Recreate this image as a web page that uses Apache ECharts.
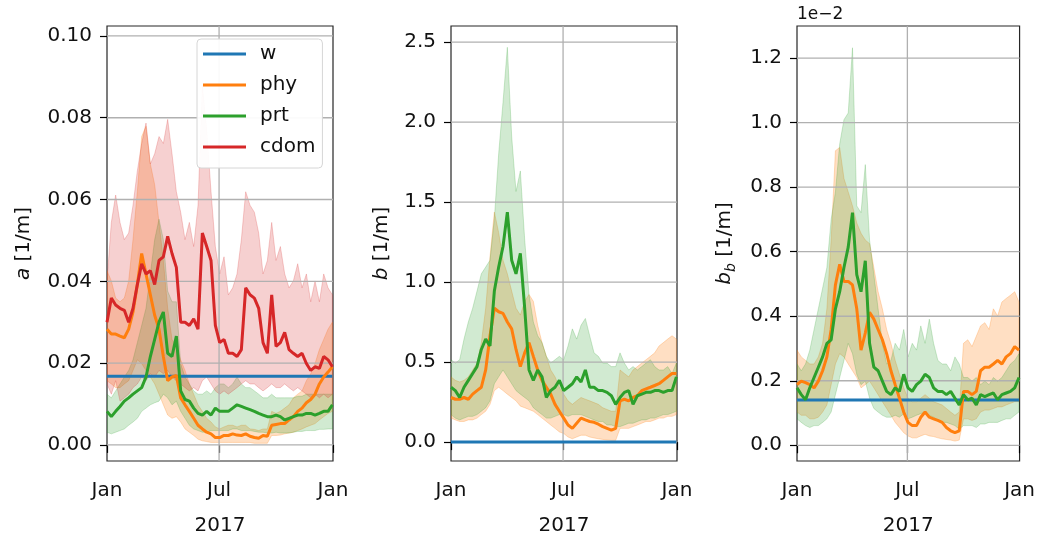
<!DOCTYPE html>
<html><head><meta charset="utf-8">
<script src="https://cdn.jsdelivr.net/npm/echarts@6/dist/echarts.min.js"></script>
<style>html,body{margin:0;padding:0;background:#fff}#c{width:1038px;height:541px}</style>
</head><body><div id="c"></div>
<script>
// ---- dates (weekly samples) ----
const dates = ['2017-01-01','2017-01-08','2017-01-15','2017-01-22','2017-01-29','2017-02-05','2017-02-12','2017-02-19','2017-02-26','2017-03-05','2017-03-12','2017-03-19','2017-03-26','2017-04-02','2017-04-09','2017-04-16','2017-04-23','2017-04-30','2017-05-07','2017-05-14','2017-05-21','2017-05-28','2017-06-04','2017-06-11','2017-06-18','2017-06-25','2017-07-02','2017-07-09','2017-07-16','2017-07-23','2017-07-30','2017-08-06','2017-08-13','2017-08-20','2017-08-27','2017-09-03','2017-09-10','2017-09-17','2017-09-24','2017-10-01','2017-10-08','2017-10-15','2017-10-22','2017-10-29','2017-11-05','2017-11-12','2017-11-19','2017-11-26','2017-12-03','2017-12-10','2017-12-17','2017-12-24','2017-12-31'];
const xTicks = ['2017-01-01','2017-07-01','2018-01-01'];
const xTickLabels = ['Jan','Jul','Jan'];
const aTicks = [0,0.02,0.04,0.06,0.08,0.10];
const bTicks = [0,0.5,1.0,1.5,2.0,2.5];
const bbTicks = [0,0.2,0.4,0.6,0.8,1.0,1.2];
const legendNames = ['w','phy','prt','cdom'];

// ---- panel a [1/m] ----
const aW = 0.0168;
const aCdom = [0.0300,0.0359,0.0342,0.0334,0.0329,0.0300,0.0334,0.0392,0.0443,0.0418,0.0426,0.0392,0.0451,0.0460,0.0510,0.0468,0.0434,0.0300,0.0300,0.0292,0.0308,0.0283,0.0518,0.0485,0.0451,0.0292,0.0250,0.0258,0.0224,0.0224,0.0216,0.0233,0.0384,0.0367,0.0359,0.0334,0.0250,0.0224,0.0367,0.0241,0.0250,0.0275,0.0233,0.0224,0.0216,0.0224,0.0199,0.0182,0.0191,0.0187,0.0216,0.0208,0.0191];
const aCdomHi = [0.0401,0.0544,0.0611,0.0544,0.0502,0.0518,0.0586,0.0670,0.0737,0.0787,0.0687,0.0712,0.0754,0.0737,0.0796,0.0712,0.0619,0.0569,0.0502,0.0544,0.0485,0.0586,0.0880,0.0771,0.0619,0.0485,0.0418,0.0460,0.0367,0.0384,0.0418,0.0502,0.0619,0.0586,0.0569,0.0518,0.0418,0.0451,0.0544,0.0451,0.0485,0.0418,0.0384,0.0401,0.0443,0.0384,0.0418,0.0350,0.0401,0.0350,0.0418,0.0384,0.0367];
const aCdomLo = [0.0149,0.0124,0.0157,0.0107,0.0115,0.0124,0.0140,0.0149,0.0166,0.0157,0.0174,0.0166,0.0182,0.0174,0.0182,0.0166,0.0157,0.0149,0.0140,0.0132,0.0140,0.0132,0.0157,0.0166,0.0149,0.0132,0.0124,0.0132,0.0124,0.0132,0.0140,0.0149,0.0157,0.0149,0.0149,0.0140,0.0132,0.0140,0.0149,0.0140,0.0140,0.0149,0.0140,0.0132,0.0140,0.0132,0.0124,0.0115,0.0124,0.0115,0.0124,0.0115,0.0124];
const aPhy = [0.0283,0.0271,0.0271,0.0266,0.0262,0.0283,0.0325,0.0392,0.0468,0.0418,0.0367,0.0317,0.0283,0.0216,0.0157,0.0166,0.0170,0.0115,0.0098,0.0082,0.0065,0.0048,0.0039,0.0031,0.0027,0.0018,0.0018,0.0023,0.0023,0.0027,0.0024,0.0023,0.0027,0.0021,0.0018,0.0016,0.0023,0.0021,0.0048,0.0050,0.0052,0.0052,0.0061,0.0069,0.0082,0.0090,0.0103,0.0111,0.0124,0.0149,0.0166,0.0178,0.0191];
const aPhyHi = [0.0426,0.0401,0.0359,0.0350,0.0359,0.0401,0.0502,0.0619,0.0754,0.0779,0.0687,0.0636,0.0544,0.0451,0.0334,0.0258,0.0241,0.0208,0.0182,0.0149,0.0124,0.0098,0.0082,0.0065,0.0056,0.0044,0.0039,0.0044,0.0048,0.0048,0.0044,0.0048,0.0048,0.0039,0.0038,0.0035,0.0039,0.0039,0.0082,0.0077,0.0082,0.0090,0.0098,0.0115,0.0124,0.0132,0.0157,0.0174,0.0199,0.0233,0.0258,0.0283,0.0300];
const aPhyLo = [0.0157,0.0149,0.0140,0.0140,0.0149,0.0157,0.0182,0.0208,0.0199,0.0182,0.0166,0.0149,0.0124,0.0098,0.0073,0.0065,0.0069,0.0056,0.0039,0.0031,0.0023,0.0014,0.0010,0.0008,0.0006,0.0006,0.0006,0.0006,0.0006,0.0006,0.0006,0.0006,0.0006,0.0006,0.0004,0.0004,0.0004,0.0004,0.0023,0.0023,0.0024,0.0027,0.0029,0.0031,0.0035,0.0039,0.0044,0.0048,0.0052,0.0061,0.0069,0.0077,0.0082];
const aPrt = [0.0082,0.0069,0.0082,0.0094,0.0107,0.0115,0.0124,0.0132,0.0140,0.0166,0.0216,0.0258,0.0300,0.0325,0.0224,0.0216,0.0266,0.0132,0.0111,0.0107,0.0090,0.0077,0.0073,0.0082,0.0073,0.0090,0.0082,0.0082,0.0082,0.0090,0.0098,0.0094,0.0090,0.0086,0.0082,0.0077,0.0073,0.0069,0.0069,0.0073,0.0069,0.0061,0.0065,0.0069,0.0073,0.0073,0.0077,0.0077,0.0073,0.0077,0.0082,0.0082,0.0098];
const aPrtHi = [0.0124,0.0115,0.0132,0.0149,0.0166,0.0182,0.0208,0.0250,0.0292,0.0334,0.0418,0.0502,0.0552,0.0502,0.0376,0.0350,0.0350,0.0199,0.0166,0.0149,0.0132,0.0124,0.0124,0.0132,0.0124,0.0140,0.0149,0.0149,0.0140,0.0149,0.0166,0.0149,0.0140,0.0140,0.0132,0.0124,0.0115,0.0115,0.0124,0.0115,0.0115,0.0115,0.0115,0.0115,0.0119,0.0119,0.0124,0.0124,0.0124,0.0124,0.0124,0.0124,0.0124];
const aPrtLo = [0.0031,0.0027,0.0031,0.0035,0.0039,0.0048,0.0056,0.0065,0.0082,0.0090,0.0098,0.0103,0.0107,0.0124,0.0115,0.0098,0.0107,0.0082,0.0065,0.0048,0.0039,0.0035,0.0031,0.0031,0.0035,0.0035,0.0035,0.0035,0.0035,0.0039,0.0039,0.0035,0.0035,0.0035,0.0033,0.0031,0.0031,0.0029,0.0029,0.0031,0.0029,0.0029,0.0029,0.0031,0.0033,0.0033,0.0035,0.0035,0.0035,0.0038,0.0038,0.0039,0.0039];

// ---- panel b [1/m] ----
const bW = 0;
const bPhy = [0.279,0.268,0.268,0.279,0.268,0.300,0.322,0.343,0.451,0.665,0.837,0.815,0.805,0.751,0.708,0.579,0.472,0.558,0.622,0.536,0.451,0.386,0.343,0.300,0.236,0.193,0.150,0.107,0.086,0.118,0.150,0.139,0.129,0.124,0.112,0.097,0.086,0.075,0.086,0.258,0.268,0.258,0.279,0.290,0.322,0.333,0.343,0.354,0.365,0.386,0.408,0.429,0.429];
const bPhyHi = [0.408,0.386,0.376,0.386,0.408,0.451,0.494,0.622,0.837,1.159,1.438,1.309,1.137,1.052,0.944,0.837,0.794,0.880,0.923,0.880,0.730,0.622,0.536,0.451,0.408,0.343,0.300,0.258,0.236,0.258,0.279,0.268,0.258,0.247,0.236,0.215,0.204,0.193,0.193,0.451,0.429,0.408,0.451,0.472,0.494,0.515,0.536,0.558,0.601,0.622,0.644,0.665,0.644];
const bPhyLo = [0.150,0.139,0.129,0.129,0.139,0.139,0.150,0.172,0.193,0.236,0.322,0.343,0.322,0.300,0.279,0.258,0.225,0.215,0.204,0.193,0.172,0.150,0.129,0.107,0.086,0.064,0.054,0.032,0.021,0.032,0.043,0.043,0.032,0.026,0.021,0.017,0.013,0.011,0.011,0.086,0.086,0.086,0.097,0.107,0.118,0.129,0.129,0.139,0.150,0.150,0.161,0.161,0.172];
const bPrt = [0.343,0.322,0.279,0.343,0.386,0.429,0.472,0.579,0.644,0.601,0.944,1.094,1.223,1.438,1.137,1.052,1.180,0.837,0.451,0.386,0.451,0.408,0.279,0.322,0.343,0.386,0.322,0.343,0.365,0.408,0.376,0.451,0.343,0.343,0.322,0.322,0.311,0.290,0.236,0.279,0.311,0.322,0.236,0.290,0.300,0.311,0.311,0.322,0.322,0.311,0.322,0.322,0.408];
const bPrtHi = [0.515,0.494,0.515,0.644,0.751,0.837,0.944,1.052,1.094,1.137,1.395,1.803,2.124,2.468,1.910,1.567,1.695,1.266,0.923,0.751,0.665,0.622,0.536,0.494,0.515,0.536,0.515,0.601,0.708,0.644,0.730,0.773,0.665,0.558,0.536,0.494,0.494,0.472,0.472,0.558,0.494,0.451,0.472,0.451,0.472,0.494,0.515,0.472,0.451,0.451,0.472,0.429,0.494];
const bPrtLo = [0.172,0.150,0.139,0.150,0.161,0.161,0.172,0.193,0.215,0.258,0.365,0.408,0.451,0.408,0.365,0.322,0.300,0.279,0.258,0.215,0.193,0.172,0.150,0.150,0.161,0.172,0.172,0.161,0.172,0.172,0.172,0.161,0.150,0.139,0.129,0.129,0.107,0.107,0.097,0.097,0.107,0.118,0.118,0.129,0.139,0.139,0.150,0.150,0.161,0.172,0.172,0.182,0.193];

// ---- panel b_b [1/m], in units of 1e-2 ----
const bbW = 0.14;
const bbPhy = [0.188,0.199,0.194,0.188,0.178,0.199,0.231,0.274,0.359,0.497,0.561,0.508,0.508,0.497,0.423,0.295,0.348,0.412,0.391,0.359,0.327,0.284,0.231,0.188,0.146,0.103,0.071,0.061,0.061,0.087,0.103,0.087,0.082,0.077,0.071,0.055,0.045,0.039,0.045,0.167,0.167,0.157,0.167,0.231,0.242,0.242,0.252,0.263,0.252,0.274,0.284,0.306,0.295];
const bbPhyHi = [0.295,0.274,0.263,0.252,0.252,0.274,0.316,0.423,0.636,0.913,0.923,0.827,0.785,0.742,0.689,0.657,0.636,0.625,0.551,0.476,0.423,0.359,0.316,0.263,0.220,0.178,0.146,0.135,0.135,0.146,0.157,0.146,0.135,0.130,0.125,0.114,0.103,0.093,0.103,0.316,0.327,0.306,0.338,0.370,0.380,0.359,0.423,0.401,0.444,0.455,0.465,0.476,0.444];
const bbPhyLo = [0.103,0.093,0.093,0.082,0.082,0.087,0.103,0.125,0.188,0.252,0.284,0.274,0.252,0.231,0.210,0.178,0.188,0.199,0.178,0.157,0.135,0.114,0.093,0.071,0.055,0.039,0.029,0.023,0.023,0.029,0.034,0.029,0.027,0.023,0.020,0.018,0.016,0.013,0.016,0.082,0.082,0.077,0.082,0.103,0.109,0.109,0.114,0.119,0.119,0.125,0.130,0.135,0.135];
const bbPrt = [0.178,0.157,0.141,0.178,0.210,0.242,0.274,0.316,0.327,0.423,0.476,0.551,0.614,0.721,0.529,0.476,0.572,0.316,0.242,0.231,0.199,0.167,0.157,0.178,0.167,0.220,0.178,0.167,0.188,0.199,0.220,0.210,0.178,0.167,0.167,0.157,0.167,0.146,0.125,0.157,0.141,0.146,0.125,0.157,0.151,0.157,0.162,0.141,0.157,0.162,0.167,0.178,0.210];
const bbPrtHi = [0.252,0.231,0.252,0.295,0.359,0.423,0.487,0.551,0.700,0.785,0.934,1.009,1.030,1.232,0.742,0.721,0.870,0.636,0.529,0.423,0.316,0.252,0.263,0.316,0.295,0.359,0.274,0.316,0.295,0.370,0.316,0.391,0.316,0.263,0.252,0.252,0.231,0.274,0.252,0.210,0.210,0.199,0.210,0.188,0.199,0.188,0.210,0.199,0.210,0.231,0.252,0.263,0.284];
const bbPrtLo = [0.082,0.071,0.061,0.055,0.061,0.061,0.071,0.082,0.103,0.157,0.210,0.263,0.316,0.284,0.220,0.188,0.199,0.146,0.114,0.103,0.093,0.087,0.087,0.093,0.087,0.098,0.082,0.087,0.093,0.098,0.103,0.093,0.087,0.077,0.071,0.071,0.066,0.061,0.050,0.061,0.061,0.061,0.055,0.066,0.066,0.071,0.071,0.071,0.077,0.082,0.082,0.093,0.103];

// ---------------- chart ----------------
const FONT = 'DejaVu Sans';
const FS = 20;
const C = {w:'#1f77b4', phy:'#ff7f0e', prt:'#2ca02c', cdom:'#d62728'};
const FILL = {phy:'rgba(255,127,14,0.25)', prt:'rgba(44,160,44,0.22)', cdom:'rgba(214,39,40,0.22)'};
function toTs(s){const p=s.split('-');return new Date(+p[0],+p[1]-1,+p[2]).getTime();}
const xTickTs = xTicks.map(toTs);
const dateTs = dates.map(toTs);
const pairs = v => dateTs.map((d,i)=>[d, v[i]]);
const flat = v => [[dateTs[0], v],[dateTs[dateTs.length-1], v]];

const panels = [
  {left:107, ymin:-0.00394, ymax:0.10243, ticks:aTicks, dec:2, gap:73, name:'{i|a} [1/m]', w:aW,
   lines:{phy:aPhy, prt:aPrt, cdom:aCdom}, bands:{phy:[aPhyLo,aPhyHi], prt:[aPrtLo,aPrtHi], cdom:[aCdomLo,aCdomHi]}},
  {left:451, ymin:-0.118, ymax:2.601, ticks:bTicks, dec:1, gap:59, name:'{i|b} [1/m]', w:bW,
   lines:{phy:bPhy, prt:bPrt}, bands:{phy:[bPhyLo,bPhyHi], prt:[bPrtLo,bPrtHi]}},
  {left:797, ymin:-0.0487, ymax:1.2995, ticks:bbTicks, dec:1, gap:59, name:'{i|b}{s|b} [1/m]', w:bbW,
   lines:{phy:bbPhy, prt:bbPrt}, bands:{phy:[bbPhyLo,bbPhyHi], prt:[bbPrtLo,bbPrtHi]}}
];

function bandSeries(g, lo, hi, color){
  return {type:'custom', name:'_band', xAxisIndex:g, yAxisIndex:g, silent:true, z:1, clip:true,
    data:pairs(hi), encode:{x:0, y:1},
    renderItem:(params, api)=>{
      if (params.dataIndex !== 0) return null;
      const pts = [];
      for (let i=0;i<dateTs.length;i++) pts.push(api.coord([dateTs[i], hi[i]]));
      for (let i=dateTs.length-1;i>=0;i--) pts.push(api.coord([dateTs[i], lo[i]]));
      return {type:'polygon', shape:{points:pts}, style:{fill:color, stroke:color, lineWidth:1}};
    }};
}
const GRIDLINE = {color:'#b0b0b0', width:1.3};

const grid=[], xAxis=[], yAxis=[], series=[];
panels.forEach((p,g)=>{
  grid.push({left:p.left, top:26, width:226, height:437.5, show:true, borderColor:'#262626', borderWidth:1.2, backgroundColor:'transparent'});
  xAxis.push({type:'value', gridIndex:g, min:xTickTs[0], max:xTickTs[2],
    axisLine:{show:false}, splitLine:{show:false},
    axisTick:{show:true, length:8, lineStyle:{color:'#000', width:1.2}, customValues:xTickTs},
    axisLabel:{show:true, customValues:xTickTs, margin:20, color:'#111', fontSize:FS, fontFamily:FONT,
      formatter:v=>{const i=xTickTs.indexOf(v); return i>=0?xTickLabels[i]:'';}, hideOverlap:false},
    name:'2017', nameLocation:'middle', nameGap:55, nameTextStyle:{color:'#111', fontSize:FS, fontFamily:FONT}});
  yAxis.push({type:'value', gridIndex:g, min:p.ymin, max:p.ymax,
    axisLine:{show:false}, splitLine:{show:false},
    axisTick:{show:true, length:7, lineStyle:{color:'#000', width:1.2}, customValues:p.ticks},
    axisLabel:{show:true, customValues:p.ticks, margin:15, color:'#111', fontSize:FS, fontFamily:FONT,
      formatter:v=>Number(v).toFixed(p.dec)},
    name:p.name, nameLocation:'middle', nameGap:p.gap,
    nameTextStyle:{color:'#111', fontSize:FS, fontFamily:FONT,
      rich:{i:{fontStyle:'italic', fontSize:FS, fontFamily:FONT, color:'#111'},
            s:{fontStyle:'italic', fontSize:14, fontFamily:FONT, color:'#111', padding:[12,0,0,0]}}}});
  // bands
  Object.keys(p.bands).forEach(k=>{
    const [lo,hi]=p.bands[k];
    series.push(bandSeries(g, lo, hi, FILL[k]));
  });
  // gridlines (above bands, below lines), each as its own 2-point line
  p.ticks.forEach(v=>{
    series.push({type:'line', name:'_gy', xAxisIndex:g, yAxisIndex:g, silent:true, z:2, symbol:'none',
      data:[[xTickTs[0], v],[xTickTs[2], v]], lineStyle:GRIDLINE});
  });
  series.push({type:'line', name:'_gx', xAxisIndex:g, yAxisIndex:g, silent:true, z:2, symbol:'none',
    data:[[xTickTs[1], p.ymin],[xTickTs[1], p.ymax]], lineStyle:GRIDLINE});
  // lines
  series.push({type:'line', name:'w', xAxisIndex:g, yAxisIndex:g, data:flat(p.w), symbol:'none',
    lineStyle:{color:C.w, width:3}, itemStyle:{color:C.w}, z:3});
  Object.keys(p.lines).forEach(k=>{
    series.push({type:'line', name:k, xAxisIndex:g, yAxisIndex:g, data:pairs(p.lines[k]), symbol:'none',
      lineStyle:{color:C[k], width:3}, itemStyle:{color:C[k]}, z:3});
  });
});

const chart = echarts.init(document.getElementById('c'), null, {renderer:'canvas'});
chart.setOption({
  animation:false,
  grid, xAxis, yAxis, series,
  legend:{data:legendNames, left:197, top:39, orient:'vertical', icon:'rect', itemWidth:43, itemHeight:3, itemGap:9,
    backgroundColor:'rgba(255,255,255,0.95)', borderColor:'#d6d6d6', borderWidth:1, borderRadius:4,
    padding:[4,7,10,6], selectedMode:false, z:10,
    textStyle:{color:'#111', fontSize:FS, fontFamily:FONT, lineHeight:22, padding:[0,0,0,9]}},
  graphic:[{type:'text', left:797, top:6, style:{text:'1e\u22122', font:'17px "DejaVu Sans"', fill:'#111'}}]
});
</script>
</body></html>
